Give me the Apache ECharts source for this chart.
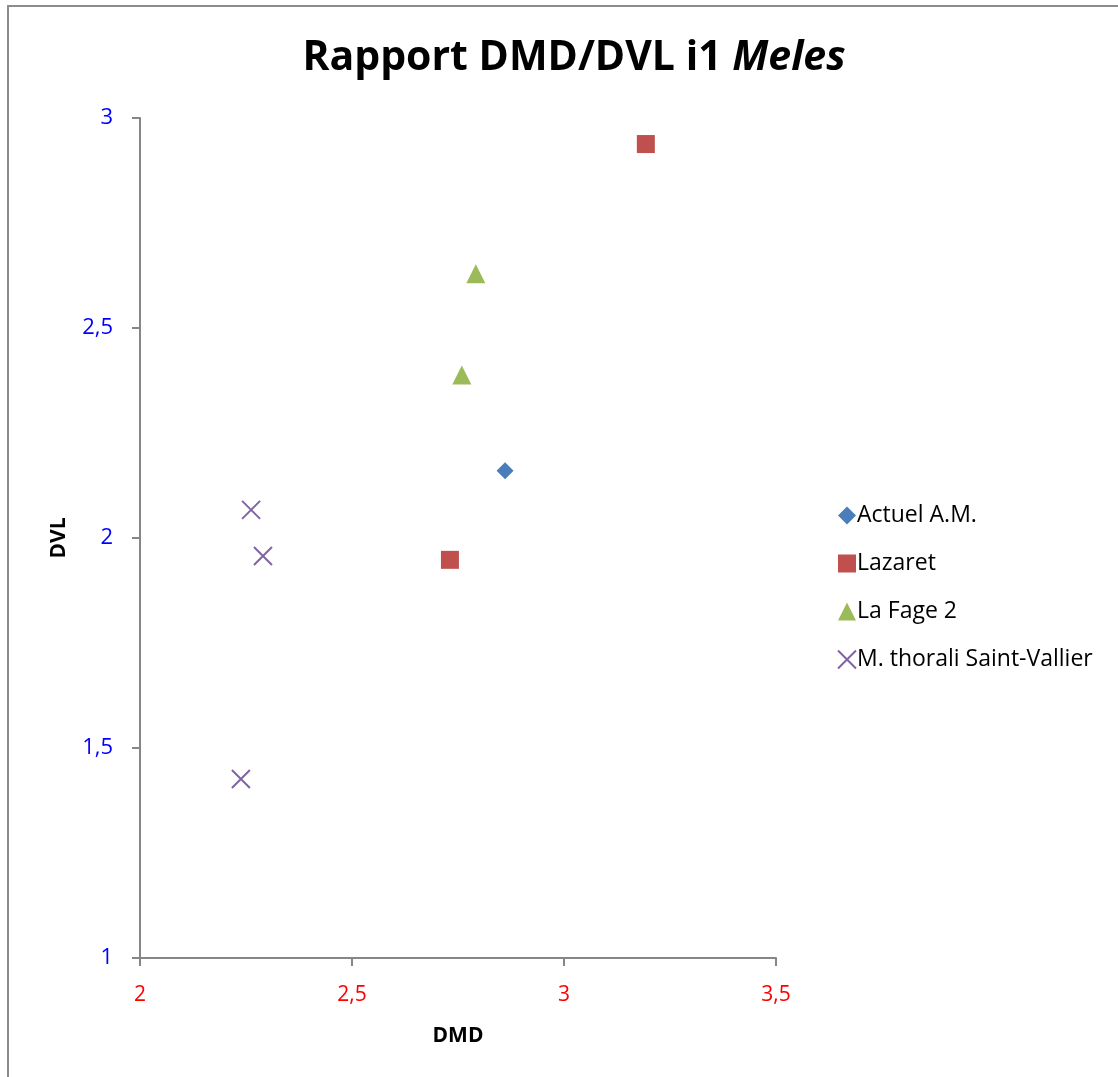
<!DOCTYPE html>
<html><head><meta charset="utf-8">
<script src="https://cdn.jsdelivr.net/npm/echarts@6/dist/echarts.min.js"></script>
<style>
html,body{margin:0;padding:0;background:#fff;}
#frame{position:absolute;left:7px;top:5px;width:1200px;height:1200px;border-top:2px solid #8c8c8c;border-left:2px solid #8c8c8c;}
#c{position:absolute;left:0;top:0;width:1118px;height:1077px;}
</style></head>
<body><div id="frame"></div><div id="c"></div>
<script>
const seriesNames = ["Actuel A.M.", "Lazaret", "La Fage 2", "M. thorali Saint-Vallier"];
const actuelDMD = [2.861];
const actuelDVL = [2.160];
const lazaretDMD = [3.193, 2.731];
const lazaretDVL = [2.938, 1.948];
const lafageDMD = [2.792, 2.759];
const lafageDVL = [2.629, 2.388];
const thoraliDMD = [2.262, 2.290, 2.238];
const thoraliDVL = [2.067, 1.957, 1.426];
const xTicks = [2, 2.5, 3, 3.5];
const yTicks = [1, 1.5, 2, 2.5, 3];

const pair = (xs, ys) => xs.map((x, i) => [x, ys[i]]);
const fmt = v => String(v).replace('.', ',');
const font = '"Open Sans", Lato, sans-serif';

const chart = echarts.init(document.getElementById('c'));
chart.setOption({
  animation: false,
  backgroundColor: 'transparent',
  title: {
    text: '{n|Rapport DMD/DVL i1 }{i|Meles}',
    left: 569, textAlign: 'center', top: 33,
    textStyle: {
      rich: {
        n: {fontFamily: font, fontWeight: 'bold', fontSize: 41, color: '#000'},
        i: {fontFamily: font, fontWeight: 'bold', fontStyle: 'italic', fontSize: 41, color: '#000'}
      }
    }
  },
  grid: {left: 140, right: 342, top: 118, bottom: 119, containLabel: false},
  legend: {
    orient: 'vertical', left: 832, top: 499, itemGap: 25,
    itemWidth: 18, itemHeight: 18,
    textStyle: {fontFamily: font, fontSize: 23, color: '#000', padding: [0,0,0,-4]},
    data: seriesNames
  },
  xAxis: {
    type: 'value', min: 2, max: 3.5, interval: 0.5,
    name: 'DMD', nameLocation: 'middle', nameGap: 68,
    nameTextStyle: {fontFamily: font, fontWeight: 'bold', fontSize: 21, color: '#000'},
    axisLine: {onZero: false, lineStyle: {color: '#868686', width: 2}},
    axisTick: {show: true, length: 8, lineStyle: {color: '#868686', width: 2}},
    axisLabel: {color: '#ff0000', fontFamily: font, fontSize: 21, margin: 27, formatter: fmt},
    splitLine: {show: false}
  },
  yAxis: {
    type: 'value', min: 1, max: 3, interval: 0.5,
    name: 'DVL', nameLocation: 'middle', nameGap: 70, nameRotate: 90,
    nameTextStyle: {fontFamily: font, fontWeight: 'bold', fontSize: 21, color: '#000'},
    axisLine: {onZero: false, lineStyle: {color: '#868686', width: 2}},
    axisTick: {show: true, length: 8, lineStyle: {color: '#868686', width: 2}},
    axisLabel: {color: '#0000ff', fontFamily: font, fontSize: 22, margin: 27, formatter: fmt},
    splitLine: {show: false}
  },
  series: [
    {name: seriesNames[0], type: 'scatter', symbol: 'diamond', symbolSize: 17,
     itemStyle: {color: '#4a7ebb', opacity: 1}, data: pair(actuelDMD, actuelDVL)},
    {name: seriesNames[1], type: 'scatter', symbol: 'rect', symbolSize: 18,
     itemStyle: {color: '#c0504d', opacity: 1}, data: pair(lazaretDMD, lazaretDVL)},
    {name: seriesNames[2], type: 'scatter', symbol: 'triangle', symbolSize: 19,
     itemStyle: {color: '#9bbb59', opacity: 1}, data: pair(lafageDMD, lafageDVL)},
    {name: seriesNames[3], type: 'scatter', symbol: 'path://M0,0L10,10M10,0L0,10', symbolSize: 18,
     itemStyle: {color: 'transparent', borderColor: '#8064a2', borderWidth: 2, opacity: 1}, data: pair(thoraliDMD, thoraliDVL)}
  ]
});
</script></body></html>
